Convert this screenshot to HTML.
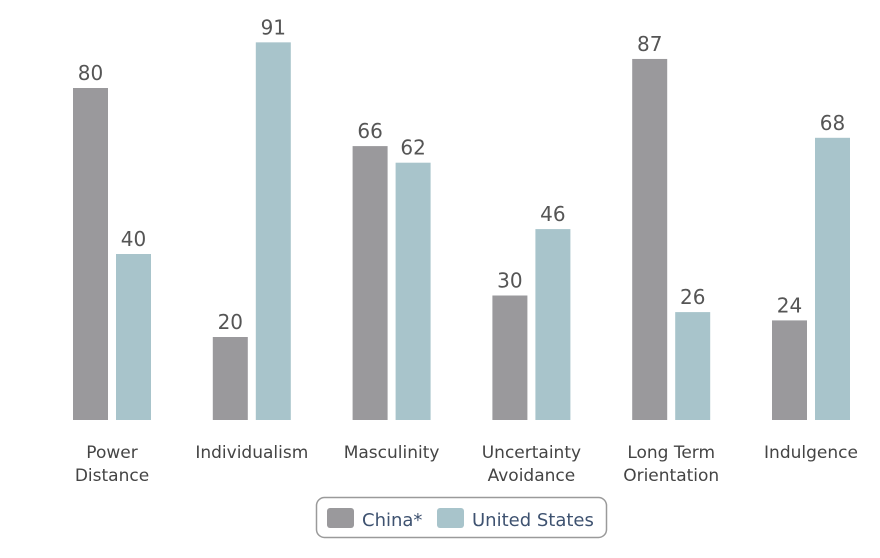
<!DOCTYPE html>
<html><head><meta charset="utf-8"><style>
body{margin:0;background:#fff;width:880px;height:554px;overflow:hidden;font-family:"DejaVu Sans","Liberation Sans",sans-serif}
text{font-family:"DejaVu Sans","Liberation Sans",sans-serif}
</style></head><body>
<svg id="chart" width="880" height="554">
<g id="bars"></g>
<g>
<rect x="316.5" y="497.5" width="290" height="40" rx="8" fill="#fff" stroke="#9a9a9a" stroke-width="1.5"/>
<g><rect x="327" y="508" width="27" height="20" rx="3" fill="#9a999c"/><text x="362" y="526" font-size="18" fill="#3e5270">China*</text></g>
<g><rect x="437" y="508" width="27" height="20" rx="3" fill="#a8c4cb"/><text x="472" y="526" font-size="18" fill="#3e5270">United States</text></g>
</g>
</svg>
<script>
const categories=[["Power","Distance"],["Individualism"],["Masculinity"],["Uncertainty","Avoidance"],["Long Term","Orientation"],["Indulgence"]];
const china=[80,20,66,30,87,24];
const us=[40,91,62,46,26,68];
const base=420, scale=4.15, x0=73, step=139.8, bw=35;
const y=v=>base-v*scale;
const g=document.getElementById('bars');
const ns='http://www.w3.org/2000/svg';
function mk(tag,attrs,txt){const e=document.createElementNS(ns,tag);for(const k in attrs)e.setAttribute(k,attrs[k]);if(txt!==undefined)e.textContent=txt;g.appendChild(e);return e;}
categories.forEach((c,i)=>{
  const xc=x0+i*step, xu=xc+43;
  const b1=mk('rect',{x:xc,y:y(china[i]),width:bw,height:china[i]*scale,fill:'#9a999c'});
  
  
  const b2=mk('rect',{x:xu,y:y(us[i]),width:bw,height:us[i]*scale,fill:'#a8c4cb'});
  
  
  const l1=mk('text',{x:xc+bw/2,y:y(china[i])-8,'text-anchor':'middle','font-size':20,fill:'#555'},china[i]);
  
  
  const l2=mk('text',{x:xu+bw/2,y:y(us[i])-8,'text-anchor':'middle','font-size':20,fill:'#555'},us[i]);
  
  
  c.forEach((line,j)=>{
    const t=mk('text',{x:xc+39,y:458+j*23,'text-anchor':'middle','font-size':17,fill:'#444'},line);
    
    
  });
});
</script>
</body></html>
